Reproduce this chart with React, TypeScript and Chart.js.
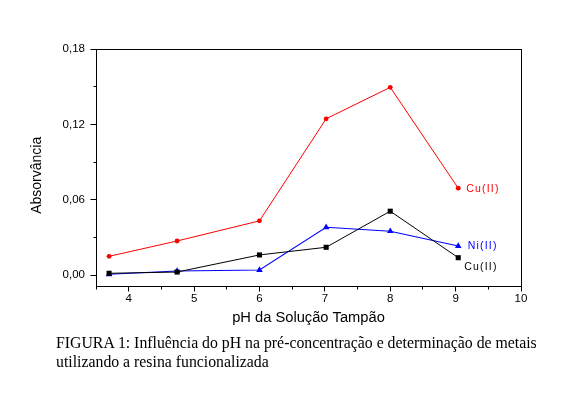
import React, { useEffect, useRef } from 'react';
import { Chart, registerables } from 'chart.js';

Chart.register(...registerables);

// ---- data ----
const pH = [3.7, 4.74, 6.0, 7.02, 8.0, 9.04];
const cuRed = [0.0151, 0.0273, 0.0433, 0.1245, 0.1495, 0.0693];
const cuBlack = [0.0016, 0.0026, 0.0162, 0.0223, 0.051, 0.014];
const niBlue = [0.0008, 0.0034, 0.0042, 0.0382, 0.0351, 0.0233];
const seriesLabels = ['Cu(II)', 'Cu(II)', 'Ni(II)'];

const xMin = 3.5;
const xMax = 10;
const yMin = -0.0085;
const yMax = 0.18;
const xTicks = [4, 5, 6, 7, 8, 9, 10];
const xMinorTicks = [3.5, 4.5, 5.5, 6.5, 7.5, 8.5, 9.5];
const yTicks = [0, 0.06, 0.12, 0.18];
const yMinorTicks = [0.03, 0.09, 0.15];

const xTitle = 'pH da Solução Tampão';
const yTitle = 'Absorvância';
const captionLines = [
  'FIGURA 1: Influência do pH na pré-concentração e determinação de metais',
  'utilizando a resina funcionalizada',
];

const SANS = "'Liberation Sans', Arial, sans-serif";

const decorPlugin = {
  id: 'decor',
  beforeDatasetsDraw(chart: any) {
    const { ctx, chartArea } = chart;
    const { left, top, right, bottom } = chartArea;
    const xs = chart.scales.x;
    const ys = chart.scales.y;
    ctx.save();
    ctx.strokeStyle = '#000';
    ctx.lineWidth = 1;
    ctx.strokeRect(left + 0.5, top + 0.5, right - left, bottom - top);
    ctx.beginPath();
    const xt = (v: number, len: number) => {
      const p = Math.floor(xs.getPixelForValue(v)) + 0.5;
      ctx.moveTo(p, bottom + 0.5);
      ctx.lineTo(p, bottom + 0.5 + len);
    };
    const yt = (v: number, len: number) => {
      const p = Math.floor(ys.getPixelForValue(v)) + 0.5;
      ctx.moveTo(left + 0.5, p);
      ctx.lineTo(left + 0.5 - len, p);
    };
    xTicks.forEach((v) => xt(v, 5));
    xMinorTicks.forEach((v) => xt(v, 3));
    yTicks.forEach((v) => yt(v, 6));
    yMinorTicks.forEach((v) => yt(v, 3));
    ctx.stroke();

    // axis titles
    ctx.fillStyle = '#000';
    ctx.textAlign = 'center';
    ctx.textBaseline = 'middle';
    ctx.font = `14.7px ${SANS}`;
    ctx.fillText(xTitle, (left + right) / 2, 318);
    ctx.save();
    ctx.translate(37.5, 175.3);
    ctx.rotate(-Math.PI / 2);
    ctx.font = `14px ${SANS}`;
    ctx.fillText(yTitle, 0, 0);
    ctx.restore();
    ctx.restore();
  },
  afterDatasetsDraw(chart: any) {
    const { ctx } = chart;
    const offsets = [
      { dx: 8, dy: 1 },
      { dx: 6, dy: 9.5 },
      { dx: 9.5, dy: 0 },
    ];
    ctx.save();
    ctx.textAlign = 'left';
    ctx.textBaseline = 'middle';
    ctx.font = `10.5px ${SANS}`;
    try {
      (ctx as any).letterSpacing = '1.2px';
    } catch (e) {}
    chart.data.datasets.forEach((ds: any, i: number) => {
      const meta = chart.getDatasetMeta(i);
      const pt = meta.data[meta.data.length - 1];
      ctx.fillStyle = ds.borderColor;
      ctx.fillText(seriesLabels[i], pt.x + offsets[i].dx, pt.y + offsets[i].dy);
    });
    ctx.restore();
  },
};

export default function App() {
  const canvasRef = useRef<HTMLCanvasElement | null>(null);

  useEffect(() => {
    const canvas = canvasRef.current;
    if (!canvas) return;
    const toPts = (ys: number[]) => pH.map((x, i) => ({ x, y: ys[i] }));
    const chart = new Chart(canvas, {
      type: 'line',
      data: {
        datasets: [
          {
            label: seriesLabels[0],
            data: toPts(cuRed),
            borderColor: '#ff0000',
            backgroundColor: '#ff0000',
            borderWidth: 1,
            pointStyle: 'circle',
            pointRadius: 2.4,
            pointBorderWidth: 0,
            tension: 0,
          },
          {
            label: seriesLabels[1],
            data: toPts(cuBlack),
            borderColor: '#000000',
            backgroundColor: '#000000',
            borderWidth: 1,
            pointStyle: 'rect',
            pointRadius: 3.6,
            pointBorderWidth: 0,
            tension: 0,
          },
          {
            label: seriesLabels[2],
            data: toPts(niBlue),
            borderColor: '#0000ff',
            backgroundColor: '#0000ff',
            borderWidth: 1.1,
            pointStyle: 'triangle',
            pointRadius: 3.8,
            pointBorderWidth: 0,
            tension: 0,
          },
        ],
      },
      options: {
        animation: false,
        responsive: false,
        devicePixelRatio: 1,
        events: [],
        layout: { padding: { left: 0, top: 49, right: 40, bottom: 79 } },
        plugins: {
          legend: { display: false },
          tooltip: { enabled: false },
          title: { display: false },
        },
        scales: {
          x: {
            type: 'linear',
            min: xMin,
            max: xMax,
            grid: { display: false, drawTicks: false },
            border: { display: false },
            afterBuildTicks: (s: any) => {
              s.ticks = xTicks.map((v) => ({ value: v }));
            },
            afterFit: (s: any) => {
              s.height = 30;
            },
            ticks: {
              padding: 6,
              color: '#000',
              font: { family: SANS, size: 11.5 },
              maxRotation: 0,
              autoSkip: false,
              callback: (v: any) => String(v),
            },
          },
          y: {
            type: 'linear',
            min: yMin,
            max: yMax,
            grid: { display: false, drawTicks: false },
            border: { display: false },
            afterBuildTicks: (s: any) => {
              s.ticks = yTicks.map((v) => ({ value: v }));
            },
            afterFit: (s: any) => {
              s.width = 96;
            },
            ticks: {
              padding: 11,
              color: '#000',
              font: { family: SANS, size: 11.5 },
              autoSkip: false,
              callback: (v: any) => Number(v).toFixed(2).replace('.', ','),
            },
          },
        },
      },
      plugins: [decorPlugin],
    } as any);
    return () => chart.destroy();
  }, []);

  return (
    <div
      style={{
        position: 'fixed',
        left: 0,
        top: 0,
        width: 561,
        height: 395,
        background: '#fff',
        overflow: 'hidden',
      }}
    >
      <canvas ref={canvasRef} width={561} height={395} style={{ position: 'absolute', left: 0, top: 0 }} />
      <div
        style={{
          position: 'absolute',
          left: 56,
          top: 333,
          fontFamily: "'Liberation Serif', 'Times New Roman', serif",
          fontSize: '15.8px',
          lineHeight: '19px',
          color: '#000',
          whiteSpace: 'nowrap',
        }}
      >
        {captionLines.map((l, i) => (
          <div key={i}>{l}</div>
        ))}
      </div>
    </div>
  );
}
